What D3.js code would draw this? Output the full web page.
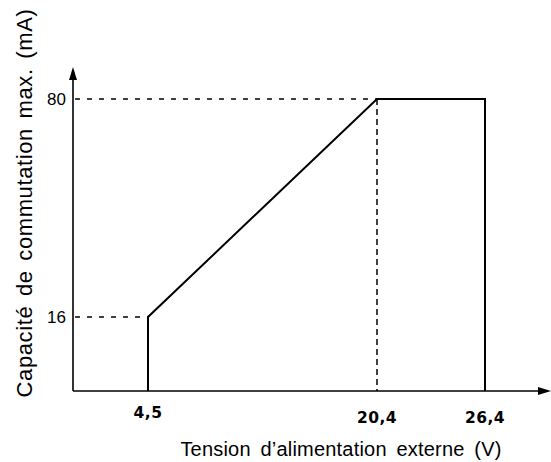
<!DOCTYPE html>
<html>
<head>
<meta charset="utf-8">
<script src="https://cdn.jsdelivr.net/npm/d3@7"></script>
<style>
  html, body { margin: 0; padding: 0; background: #fff; }
  svg { display: block; }
</style>
</head>
<body>
<svg id="chart" width="551" height="462"></svg>
<script>
// ---- data ----
const xBreaks = [0, 4.5, 20.4, 26.4];          // V (schematic, non-uniform axis)
const yBreaks = [0, 16, 80];                    // mA (schematic, non-uniform axis)
const xTickValues = [4.5, 20.4, 26.4];
const xTickLabels = ["4,5", "20,4", "26,4"];
const yTickValues = [16, 80];
const yTickLabels = ["16", "80"];
const curveVolts = [4.5, 4.5, 20.4, 26.4, 26.4];
const curveMilliamps = [0, 16, 80, 80, 0];
const xTitle = "Tension d\u2019alimentation externe (V)";
const yTitle = "Capacité de commutation max. (mA)";

// ---- layout ----
const svg = d3.select("#chart");
const x = d3.scaleLinear().domain(xBreaks).range([73, 148, 377, 485]);
const y = d3.scaleLinear().domain(yBreaks).range([391, 317, 99]);
const xEnd = 551, yTop = 67;
const sans = "Liberation Sans, Arial, Helvetica, sans-serif";

const g = svg.append("g");

// axes lines
g.append("line").attr("x1", x(0)).attr("x2", xEnd - 8).attr("y1", y(0)).attr("y2", y(0))
  .attr("stroke", "#000").attr("stroke-width", 1.6);
g.append("line").attr("x1", x(0)).attr("x2", x(0)).attr("y1", y(0)).attr("y2", yTop + 8)
  .attr("stroke", "#000").attr("stroke-width", 1.6);
// arrowheads
g.append("path").attr("d", `M${x(0)},${yTop} L${x(0) - 4},${yTop + 13} L${x(0) + 4},${yTop + 13} Z`).attr("fill", "#000");
g.append("path").attr("d", `M${xEnd},${y(0)} L${xEnd - 13},${y(0) - 4} L${xEnd - 13},${y(0) + 4} Z`).attr("fill", "#000");

// y tick labels
yTickValues.forEach((v, i) => {
  g.append("text").attr("x", x(0) - 7).attr("y", y(v)).attr("dy", "0.35em")
    .attr("text-anchor", "end").attr("font-family", sans)
    .attr("font-size", 17).text(yTickLabels[i]);
});
// dashed horizontal guides from the axis to the curve
const xAtY = v => curveVolts[curveMilliamps.indexOf(v, 1)];
yTickValues.forEach(v => {
  g.append("line").attr("x1", x(0) + 2).attr("x2", x(xAtY(v))).attr("y1", y(v)).attr("y2", y(v))
    .attr("stroke", "#000").attr("stroke-width", 1.3).attr("stroke-dasharray", "5,7");
});
// vertical dashed guide at 20.4
g.append("line").attr("x1", x(20.4)).attr("x2", x(20.4)).attr("y1", y(80)).attr("y2", y(0))
  .attr("stroke", "#000").attr("stroke-width", 1.5).attr("stroke-dasharray", "6,4");

// x tick labels
xTickValues.forEach((v, i) => {
  g.append("text").attr("x", x(v)).attr("y", i === 0 ? 418 : 423)
    .attr("text-anchor", "middle").attr("font-family", "DejaVu Sans, sans-serif")
    .attr("font-weight", "bold").attr("font-size", 15.5).attr("letter-spacing", 0.5)
    .text(xTickLabels[i]);
});

// curve
const line = d3.line().x((d, i) => x(curveVolts[i])).y((d, i) => y(curveMilliamps[i]));
g.append("path").attr("d", line(curveVolts)).attr("fill", "none")
  .attr("stroke", "#000").attr("stroke-width", 2).attr("stroke-linejoin", "miter");

// titles
g.append("text").attr("x", 341).attr("y", 456).attr("text-anchor", "middle")
  .attr("font-family", sans).attr("font-size", 20).attr("letter-spacing", 0.2)
  .attr("word-spacing", 4).text(xTitle);
g.append("text").attr("transform", "translate(32,203) rotate(-90)").attr("text-anchor", "middle")
  .attr("font-family", sans).attr("font-size", 22).attr("letter-spacing", 0.6)
  .attr("word-spacing", 3).text(yTitle);
</script>
</body>
</html>
